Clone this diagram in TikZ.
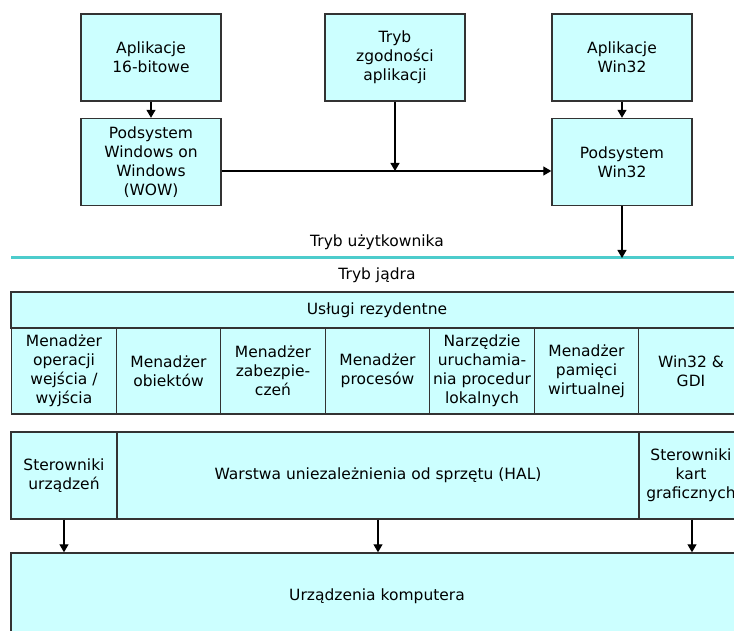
\documentclass[tikz,border=0pt]{standalone}
\usepackage{fontspec}
\setmainfont{DejaVu Sans}
\usetikzlibrary{arrows.meta}

\definecolor{boxfill}{RGB}{204,255,255}
\definecolor{boxline}{RGB}{51,51,51}
\definecolor{modeline}{RGB}{77,204,204}

\begin{document}
\begin{tikzpicture}[%
	x=1pt, y=-1pt,
	>={Triangle[length=8pt,width=9pt]},
	node distance=104.5pt,
	font=\fontsize{15.5}{19}\selectfont,
	box/.style={draw=boxline, line width=1.4pt, fill=boxfill, align=center, inner sep=0pt},
	app/.style={box, minimum width=140pt, minimum height=87pt},
	cell/.style={box, minimum width=104.5pt, minimum height=86pt},
	pfeil/.style={draw, line width=1.2pt, ->}
]
\useasboundingbox (0,0) rectangle (734,631);

% user mode
\node[app] (app16) at (151,57.5) {Aplikacje\\16-bitowe};
\node[app] (wow) [below of = app16] {Podsystem\\Windows on\\Windows\\(WOW)};
\node[app,node distance=244pt] (compat) [right of = app16] {Tryb\\zgodności\\aplikacji};
\node[app,node distance=227pt] (win32app) [right of = compat] {Aplikacje\\Win32};
\node[app] (win32sub) [below of = win32app] {Podsystem\\Win32};

\coordinate (join) at (395,171);
\coordinate (lineL) at (11,258);
\coordinate (lineR) at (743,258);

\node (user) at (377,242) {Tryb użytkownika};
\node (kernel) at (377,275) {Tryb jądra};

% kernel mode
\node[box, minimum width=732pt, minimum height=36pt] (resident) at (377,310) {Usługi rezydentne};
\node[cell] (io) at (64,371) {Menadżer\\operacji\\wejścia /\\wyjścia};
\node[cell] (obj) [right of = io] {Menadżer\\obiektów};
\node[cell] (sec) [right of = obj] {Menadżer\\zabezpie-\\czeń};
\node[cell] (proc) [right of = sec] {Menadżer\\procesów};
\node[cell] (lpc) [right of = proc] {Narzędzie\\uruchamia-\\nia procedur\\lokalnych};
\node[cell] (vmm) [right of = lpc] {Menadżer\\pamięci\\wirtualnej};
\node[cell] (gdi) [right of = vmm] {Win32 \&\\GDI};

\node[box, minimum width=106pt, minimum height=87pt] (drv) at (64,475.5) {Sterowniki\\urządzeń};
\node[box, minimum width=522pt, minimum height=87pt] (hal) at (378,475.5) {Warstwa uniezależnienia od sprzętu (HAL)};
\node[box, minimum width=104pt, minimum height=87pt] (gfx) at (691,475.5) {Sterowniki\\kart\\graficznych};

\node[box, minimum width=732pt, minimum height=86pt] (hw) at (377,596) {Urządzenia komputera};

\draw[modeline, line width=3pt] (lineL) -- (lineR);

\path[pfeil] (app16) -- (wow);
\path[pfeil] (win32app) -- (win32sub);
\draw[line width=1.2pt] (wow.east |- join) -- (join);
\path[pfeil] (join) -- (win32sub.west |- join);
\path[pfeil] (compat) -- (join);
\path[pfeil] (win32sub) -- (win32sub.south |- lineL);

\path[pfeil] (drv) -- (drv.south |- hw.north);
\path[pfeil] (hal) -- (hal.south |- hw.north);
\path[pfeil] ([xshift=1pt]gfx.south) -- ([xshift=1pt]gfx.south |- hw.north);

\end{tikzpicture}
\end{document}
